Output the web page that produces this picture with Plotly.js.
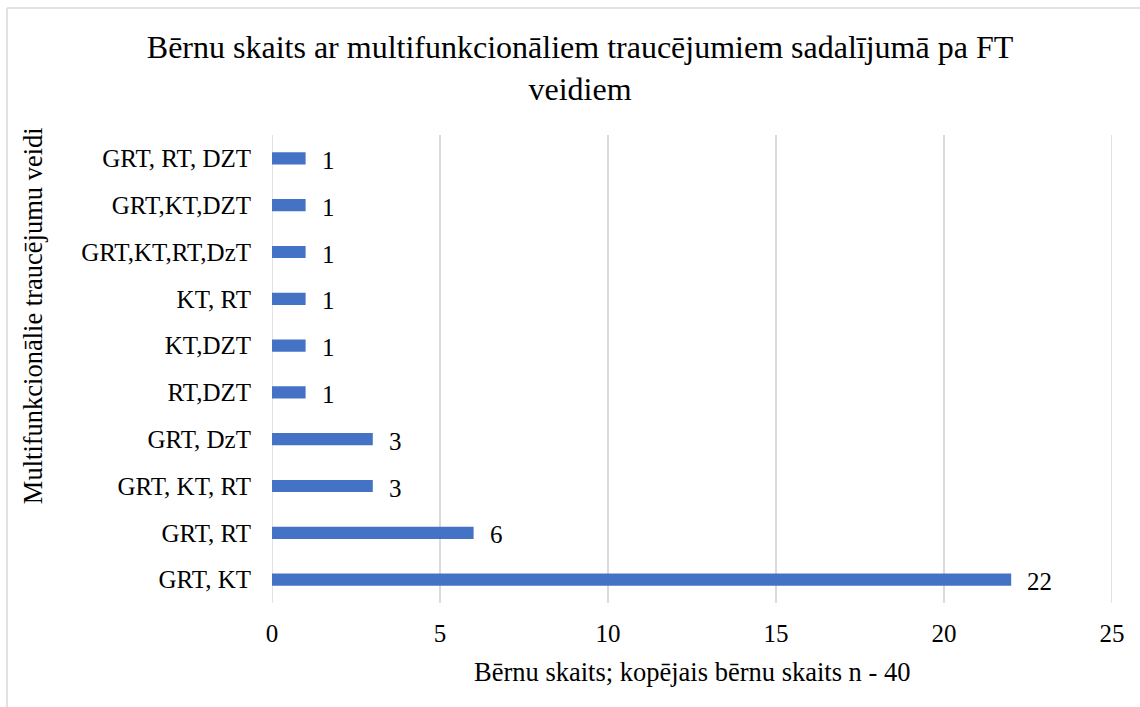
<!DOCTYPE html>
<html>
<head>
<meta charset="utf-8">
<script src="https://cdn.plot.ly/plotly-3.0.1.min.js"></script>
<style>
html,body{margin:0;padding:0;background:#fff;}
#chart{width:1140px;height:707px;}
</style>
</head>
<body>
<div id="chart"></div>
<script>
const categories = ["GRT, KT", "GRT, RT", "GRT, KT, RT", "GRT, DzT", "RT,DZT", "KT,DZT", "KT, RT", "GRT,KT,RT,DzT", "GRT,KT,DZT", "GRT, RT, DZT"];
const values = [22, 6, 3, 3, 1, 1, 1, 1, 1, 1];
const xTicks = [0, 5, 10, 15, 20, 25];
const titleText = "Bērnu skaits ar multifunkcionāliem traucējumiem sadalījumā pa FT<br>veidiem";
const xTitle = "Bērnu skaits; kopējais bērnu skaits n - 40";
const yTitle = "Multifunkcionālie traucējumu veidi";

const serif = "Liberation Serif, Times New Roman, serif";
const trace = {
  type: "bar",
  orientation: "h",
  y: categories,
  x: values,
  marker: {color: "#4472C4"},
  width: 0.26,
  hoverinfo: "x+y"
};
const labelAnnotations = values.map((v, i) => ({
  x: v, y: categories[i], xref: "x", yref: "y",
  text: String(v), showarrow: false, xanchor: "left", yanchor: "middle",
  xshift: 14, yshift: -2,
  font: {family: serif, size: 25, color: "#000"}
}));
const edgeGrid = [xTicks[0], xTicks[xTicks.length - 1]].map(v => ({
  type: "line", xref: "x", yref: "paper", x0: v, x1: v, y0: 0, y1: 1,
  line: {color: "#d9d9d9", width: 1.5}, layer: "below"
}));
const layout = {
  width: 1140, height: 707,
  margin: {l: 272, r: 28, t: 135, b: 104},
  paper_bgcolor: "#fff", plot_bgcolor: "#fff",
  showlegend: false,
  font: {family: serif, color: "#000"},
  title: {text: titleText, font: {family: serif, size: 32, color: "#000"}, x: 0.5088, xanchor: "center", y: 0.918, yanchor: "middle"},
  xaxis: {
    range: [0, 25], tickvals: xTicks, ticktext: xTicks.map(String),
    showgrid: true, gridcolor: "#d9d9d9", gridwidth: 1.5,
    zeroline: false, showline: false,
    ticks: "outside", ticklen: 8, tickcolor: "rgba(0,0,0,0)",
    tickfont: {family: serif, size: 25, color: "#000"},
    fixedrange: true
  },
  yaxis: {
    type: "category", categoryorder: "array", categoryarray: categories,
    showgrid: false, zeroline: false, showline: false,
    ticks: "outside", ticklen: 15, tickcolor: "rgba(0,0,0,0)",
    tickfont: {family: serif, size: 25, color: "#000"},
    fixedrange: true
  },
  annotations: labelAnnotations.concat([
    {text: xTitle, xref: "paper", yref: "paper", x: 0.5, y: -0.147, xanchor: "center", yanchor: "middle", showarrow: false, font: {family: serif, size: 26.5, color: "#000"}},
    {text: yTitle, xref: "paper", yref: "paper", x: -0.2845, y: 0.613, xanchor: "center", yanchor: "middle", textangle: -90, showarrow: false, font: {family: serif, size: 26.5, color: "#000"}}
  ]),
  shapes: edgeGrid.concat([
    {type: "line", xref: "paper", yref: "paper", x0: -0.3155, x1: 1.2, y0: 1.2714, y1: 1.2714, line: {color: "#d9d9d9", width: 1.5}},
    {type: "line", xref: "paper", yref: "paper", x0: -0.3155, x1: -0.3155, y0: 1.2714, y1: -0.3, line: {color: "#d9d9d9", width: 1.5}}
  ])
};
Plotly.newPlot("chart", [trace], layout, {displayModeBar: false, staticPlot: true});
</script>
</body>
</html>
